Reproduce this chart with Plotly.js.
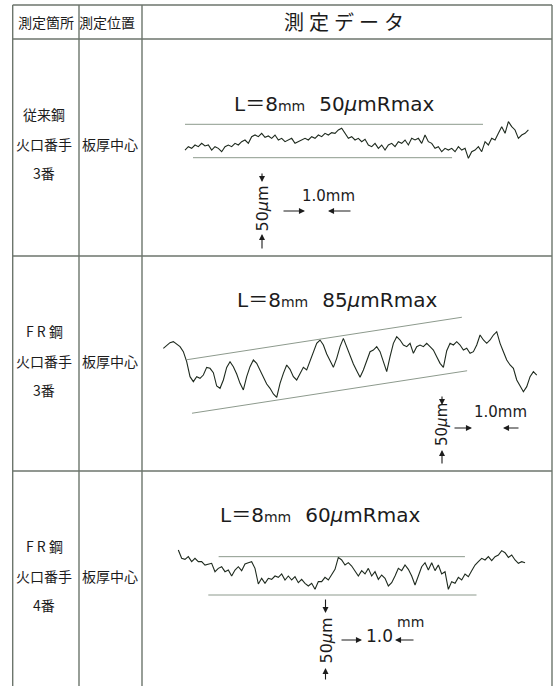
<!DOCTYPE html>
<html>
<head>
<meta charset="utf-8">
<script src="https://cdn.plot.ly/plotly-3.0.1.min.js"></script>
<style>
  html, body { margin: 0; padding: 0; background: #ffffff; }
  #chart { width: 555px; height: 686px; }
</style>
</head>
<body>
<div id="chart"></div>
<script>
// ---- table content ----
const headers = ['測定箇所', '測定位置', '測定データ'];
const locationLabels = [
  ['従来鋼', '火口番手', '3番'],
  ['F R 鋼', '火口番手', '3番'],
  ['F R 鋼', '火口番手', '4番']
];
const positionLabels = ['板厚中心', '板厚中心', '板厚中心'];

// ---- roughness measurements ----
const evalLengthMm = [8, 8, 8];
const rmaxUm = [50, 85, 60];
const sampleStepMm = 0.0895;
const profileStartMm = [0, -0.635, -0.805];

// surface profile heights (μm), one sample every sampleStepMm
const profile1 = [11.5,16.5,14,19,16.5,21.5,17.5,19,11.5,16.5,14,9,16.5,19,16.5,21.5,19,24,26.5,21.5,
  31.5,34,31.5,36.5,30.5,32.5,29,34,26.5,29,24,26.5,29,21.5,24,26.5,29,26.5,31.5,29,
  34,31.5,36.5,34,37.5,36.5,41.5,44,36.5,29,31.5,26.5,29,24,27.5,19,16.5,21.5,14,19,
  11.5,19,21.5,16.5,24,21.5,26.5,19,29,26.5,29,21.5,34,24,21.5,14,16.5,9,14,11.5,
  14,9,16.5,11.5,14,-1,9,11.5,16.5,9,24,19,29,26.5,36.5,46.5,36.5,54,46.5,41.5,
  29,34,36.5,41.5];
const profile2 = [102.8,108.0,111.6,113.2,109.5,105.4,97.5,81.9,58.4,50.6,
  58.4,55.8,61.0,73.0,71.5,64.7,43.8,40.2,53.2,73.0,
  81.9,74.1,62.6,48.0,37.6,58.4,74.1,84.5,79.3,68.9,
  58.4,46.9,40.2,31.3,26.1,48.0,63.6,76.7,69.9,58.4,
  53.2,62.6,73.0,68.9,81.9,94.9,110.6,115.8,108.0,93.9,
  83.5,73.0,87.1,105.4,118.4,105.4,89.7,78.2,67.8,57.4,
  68.9,83.5,97.5,100.1,105.4,97.5,83.5,66.2,89.7,110.6,
  121.0,115.8,108.0,105.4,110.6,94.9,105.4,108.0,105.4,110.6,
  105.4,100.1,89.7,79.3,73.0,99.1,110.6,108.0,113.2,108.0,
  100.1,102.8,94.9,97.5,108.0,123.6,115.8,110.6,115.8,123.6,
  128.8,110.6,97.5,84.5,76.7,71.5,53.2,42.8,34.9,42.8,
  58.4,66.2,61.0];
const profile3 = [70.4,57.4,55.8,60.0,52.2,57.4,52.2,52.2,46.9,48.5,
  49.6,36.5,41.7,44.3,36.5,39.1,29.7,39.1,44.3,38.1,
  48.5,50.6,52.2,41.7,17.2,26.1,18.3,26.1,24.5,29.7,
  27.6,32.9,23.5,29.7,23.5,28.7,19.3,24.5,18.3,14.1,
  18.3,8.9,20.9,20.9,27.6,23.5,31.3,40.2,58.9,54.8,
  46.9,50.6,45.4,38.1,29.7,38.1,32.9,41.7,29.7,36.5,
  24.5,31.3,26.1,14.1,19.3,29.7,41.7,38.1,46.9,40.2,
  29.7,15.6,28.7,44.3,50.6,39.1,50.6,38.1,46.9,32.9,
  36.5,8.9,20.9,18.3,27.6,23.5,32.9,28.7,38.1,46.9,
  52.2,57.4,54.8,60.0,53.7,60.0,62.6,69.4,66.2,58.9,
  62.6,54.8,49.6,52.2,50.6];
const profiles = [profile1, profile2, profile3];

// Rmax envelope lines: extent along the profile (mm) and tilt (μm per mm)
const envUpperXmm = [[0, 8.0], [0, 7.38], [0.277, 6.89]];
const envLowerXmm = [[0.215, 7.17], [0.134, 7.52], [0, 7.2]];
const envTilt = [0, 9, 0];

// scale bar labels
const vScaleLabel = '50<i>μ</i>m';
const hScaleValue = '1.0';
const hScaleUnit = 'mm';

// ---- page geometry ----
const W = 555, H = 686;
const colEdges = [12.7, 79, 142, 552];
const rowEdges = [5, 39, 256, 471, 720];
// pixel anchor of (0 mm, 0 μm) and scale for each profile frame
const frames = [
  { ox: 185,   oy: 157.7, pxPerMm: 37.25, pxPerUm: 0.668 },
  { ox: 187,   oy: 414,   pxPerMm: 37.25, pxPerUm: 0.639 },
  { ox: 208.3, oy: 595,   pxPerMm: 37.25, pxPerUm: 0.639 }
];

const PX = x => x / W;
const PY = y => 1 - y / H;

const lineCol = '#6c756c';
const inkCol = '#1c1c1c';
const traceCol = '#1e2a1e';
const envCol = '#8d9a8d';
const cjk = 'Noto Sans CJK JP, sans-serif';
const latin = 'DejaVu Sans, Noto Sans CJK JP, sans-serif';

const traces = [];
const layout = {
  width: W, height: H, autosize: false,
  margin: { l: 0, r: 0, t: 0, b: 0, pad: 0 },
  paper_bgcolor: '#ffffff', plot_bgcolor: 'rgba(0,0,0,0)',
  showlegend: false,
  shapes: [], annotations: []
};

// one subplot per row, covering the data cell
profiles.forEach((prof, i) => {
  const f = frames[i];
  const top = rowEdges[i + 1], bottom = rowEdges[i + 2];
  const xa = 'x' + (i + 1), ya = 'y' + (i + 1);
  const xKey = 'xaxis' + (i + 1), yKey = 'yaxis' + (i + 1);
  layout[xKey] = {
    domain: [PX(colEdges[2]), PX(colEdges[3])],
    range: [(colEdges[2] - f.ox) / f.pxPerMm, (colEdges[3] - f.ox) / f.pxPerMm],
    visible: false, fixedrange: true, anchor: ya
  };
  layout[yKey] = {
    domain: [Math.max(0, PY(bottom)), PY(top)],
    range: [(f.oy - Math.min(bottom, H)) / f.pxPerUm, (f.oy - top) / f.pxPerUm],
    visible: false, fixedrange: true, anchor: xa
  };

  traces.push({
    type: 'scatter', mode: 'lines', xaxis: xa, yaxis: ya,
    x0: profileStartMm[i], dx: sampleStepMm, y: prof,
    line: { color: traceCol, width: 1.1 }, hoverinfo: 'skip'
  });
  const up = envUpperXmm[i], lo = envLowerXmm[i];
  traces.push({
    type: 'scatter', mode: 'lines', xaxis: xa, yaxis: ya,
    x: up, y: up.map(v => rmaxUm[i] + envTilt[i] * v),
    line: { color: envCol, width: 1 }, hoverinfo: 'skip'
  });
  traces.push({
    type: 'scatter', mode: 'lines', xaxis: xa, yaxis: ya,
    x: lo, y: lo.map(v => envTilt[i] * v),
    line: { color: envCol, width: 1 }, hoverinfo: 'skip'
  });
});

// table grid
function seg(x0, y0, x1, y1) {
  layout.shapes.push({ type: 'line', xref: 'paper', yref: 'paper',
    x0: PX(x0), y0: PY(y0), x1: PX(x1), y1: PY(y1),
    line: { color: lineCol, width: 1.4 } });
}
seg(colEdges[0], rowEdges[0], colEdges[3], rowEdges[0]);
for (let r = 1; r < rowEdges.length - 1; r++) seg(colEdges[0], rowEdges[r], colEdges[3], rowEdges[r]);
colEdges.forEach(c => seg(c, rowEdges[0], c, H + 10));

function label(x, y, text, size, family, extra) {
  layout.annotations.push(Object.assign({
    xref: 'paper', yref: 'paper', x: PX(x), y: PY(y), text: text,
    showarrow: false, xanchor: 'center', yanchor: 'middle',
    font: { family: family, size: size, color: inkCol }
  }, extra || {}));
}
function arrow(xh, yh, xt, yt) {
  layout.annotations.push({
    xref: 'paper', yref: 'paper', x: PX(xh), y: PY(yh),
    ax: xt - xh, ay: yt - yh, axref: 'pixel', ayref: 'pixel',
    text: '', showarrow: true, arrowhead: 2, arrowsize: 1.1,
    arrowwidth: 1.1, arrowcolor: inkCol, standoff: 0
  });
}

// header row
label(45.5, 22, headers[0], 14, cjk);
label(107, 22, headers[1], 14, cjk);
label(344, 22, headers[2].split('').join('\u2005'), 20, cjk);

// row labels
const labelOffsets = [75, 105, 134];
locationLabels.forEach((lines, i) => {
  const top = rowEdges[i + 1];
  lines.forEach((t, k) => label(44, top + labelOffsets[k], t, 14, cjk));
  label(110, top + labelOffsets[1], positionLabels[i], 14, cjk);
});

// measurement titles
const titleCenters = [[334, 104], [336.5, 299.5], [320, 515]];
rmaxUm.forEach((v, i) => {
  const t = 'L＝' + evalLengthMm[i] + '<span style="font-size:14px">mm</span>\u2002\u2009' +
            v + '<i>μ</i>mRmax';
  label(titleCenters[i][0], titleCenters[i][1], t, 20, latin);
});

// scale bars
const vBars = [
  { x: 262,   dTail: 172, dHead: 182, mid: 208.5, size: 16, uHead: 234, uTail: 250 },
  { x: 442,   dTail: 395, dHead: 405, mid: 425,   size: 15, uHead: 450, uTail: 465 },
  { x: 325.5, dTail: 598, dHead: 613, mid: 641,   size: 16, uHead: 668, uTail: 681 }
];
vBars.forEach(b => {
  arrow(b.x, b.dHead, b.x, b.dTail);
  arrow(b.x, b.uHead, b.x, b.uTail);
  label(b.x, b.mid, vScaleLabel, b.size, latin, { textangle: -90 });
});

const hBars = [
  { y: 211, rTail: 282, rHead: 305, lHead: 328, lTail: 352 },
  { y: 428, rTail: 453, rHead: 472, lHead: 503, lTail: 520 },
  { y: 640, rTail: 340, rHead: 362, lHead: 395, lTail: 415 }
];
hBars.forEach(b => {
  arrow(b.rHead, b.y, b.rTail, b.y);
  arrow(b.lHead, b.y, b.lTail, b.y);
});
label(328.5, 196, hScaleValue + hScaleUnit, 15, latin);
label(500, 411.5, hScaleValue + hScaleUnit, 15, latin);
label(379.5, 636, hScaleValue, 17, latin);
label(410, 622, hScaleUnit, 14, latin);

Plotly.newPlot('chart', traces, layout, { staticPlot: true, displayModeBar: false });
</script>
</body>
</html>
